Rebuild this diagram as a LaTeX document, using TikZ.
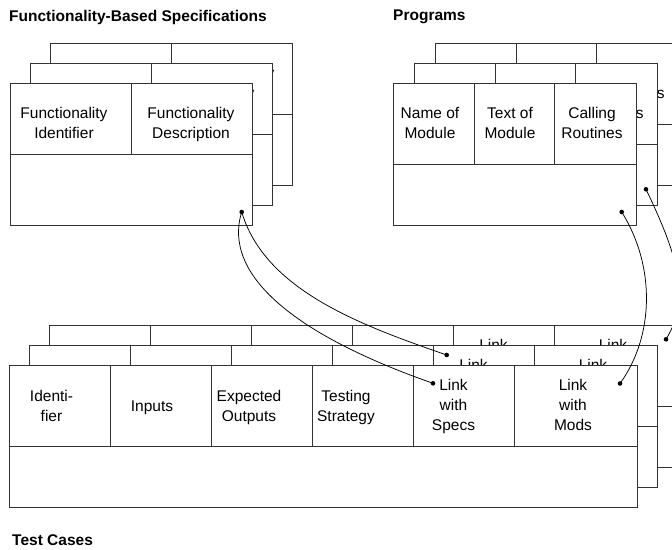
\documentclass[tikz,border=0pt]{standalone}
\usepackage{fontspec}
\setmainfont{Liberation Sans}

% Cell texts are anchored at the baseline of their last line.

% One card of the functionality-based specifications stack
\newcommand\speccard[3]{% #1 left, #2 top, #3 name
  \begin{scope}[shift={(#1,#2)}]
    \draw[cardline] (0,0) rectangle (242,142);
    \draw[divider] (0,71) -- (242,71) (121,0) -- (121,71);
    \node[celltext] (#3-id)   at (54,55.5)  {Functionality\\Identifier};
    \node[celltext] (#3-desc) at (181,55.5) {Functionality\\Description};
  \end{scope}}

% One card of the programs stack
\newcommand\progcard[3]{% #1 left, #2 top, #3 name
  \begin{scope}[shift={(#1,#2)}]
    \draw[cardline] (0,0) rectangle (243,142);
    \draw[divider] (0,81) -- (243,81) (81,0) -- (81,81) (161,0) -- (161,81);
    \node[celltext] (#3-name) at (37,55.5)  {Name of\\Module};
    \node[celltext] (#3-text) at (117,55.5) {Text of\\Module};
    \node[celltext] (#3-call) at (199,55.5) {Calling\\Routines};
  \end{scope}}

% One card of the test cases stack
\newcommand\testcard[3]{% #1 left, #2 top, #3 name
  \begin{scope}[shift={(#1,#2)}]
    \draw[cardline] (0,0) rectangle (628,142);
    \draw[divider] (0,81) -- (628,81)
      (101,0) -- (101,81) (202,0) -- (202,81) (303,0) -- (303,81)
      (404,0) -- (404,81) (505,0) -- (505,81);
    \node[celltext] (#3-id)    at (42.5,56.5) {Identi-\\fier};
    \node[celltext] (#3-in)    at (143,46.5)  {Inputs};
    \node[celltext] (#3-out)   at (240,56.5)  {Expected\\Outputs};
    \node[celltext] (#3-strat) at (337,56.5)  {Testing\\Strategy};
    \node[celltext] (#3-specs) at (444.5,65)  {Link\\with\\Specs};
    \node[celltext] (#3-mods)  at (564,65)    {Link\\with\\Mods};
  \end{scope}}

\begin{document}
\begin{tikzpicture}[x=1pt,y=-1pt,
  cardline/.style={draw=black!80, line width=0.9pt, fill=white},
  divider/.style={draw=black!80, line width=0.9pt},
  celltext/.style={anchor=base, align=center, inner sep=0pt,
    font=\fontsize{15.5}{20}\selectfont},
  heading/.style={anchor=base west, inner sep=0pt,
    font=\bfseries\fontsize{15.5}{19}\selectfont},
  link/.style={draw=black, line width=0.75pt},
  linkdot/.style={fill=black}
]
\useasboundingbox (0,0) rectangle (672,549);
\clip (0,0) rectangle (672,549);

% headings
\node[heading] (hspec) at (9,21)   {Functionality-Based Specifications};
\node[heading] (hprog) at (393,20) {Programs};
\node[heading] (htest) at (12,545) {Test Cases};

% stacks, back to front
\speccard{50}{43}{sb}
\speccard{30}{63}{sm}
\speccard{10}{83}{sf}

\progcard{435}{43}{pb}
\progcard{414}{63}{pm}
\progcard{393}{83}{pf}

\testcard{49}{325}{tb}
\testcard{29}{345}{tm}
\testcard{9}{365}{tf}

% link end points
\coordinate (sf-link)  at (241.7,212);
\coordinate (pf-link)  at (621.7,212);
\coordinate (pm-link)  at (646,189.3);
\coordinate (tf-spec)  at (433,383.3);
\coordinate (tm-spec)  at (446.7,355);
\coordinate (tf-mod)   at (620,383.5);
\coordinate (tb-mod)   at (666,339.3);

% links between the stacks
\draw[link] (sf-link) .. controls (265,290) and (360,325) .. (tm-spec);
\draw[link] (sf-link) .. controls (222,275) and (295,335) .. (tf-spec);
\draw[link] (pf-link) .. controls (655,265) and (655,335) .. (tf-mod);
\draw[link] (pm-link) .. controls (680,260) and (690,300) .. (tb-mod);

\foreach \p in {sf-link,pf-link,pm-link,tf-spec,tm-spec,tf-mod,tb-mod}
  \fill[linkdot] (\p) circle (2.3);
\end{tikzpicture}
\end{document}
